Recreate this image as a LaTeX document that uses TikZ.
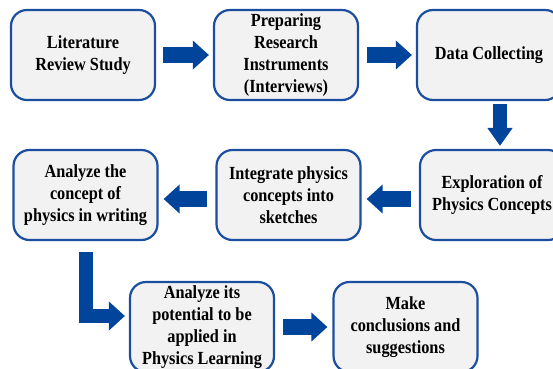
\documentclass[tikz,border=0pt]{standalone}
\usepackage{fontspec}
\setmainfont[FakeStretch=0.88]{Liberation Serif}
\usetikzlibrary{arrows.meta}
\definecolor{borda}{RGB}{28,78,160}
\definecolor{azul}{RGB}{0,68,155}
\definecolor{fundo}{RGB}{242,242,242}

\begin{document}
\begin{tikzpicture}[x=1pt, y=-1pt,
  font=\bfseries\fontsize{18.5}{22}\selectfont,
  cx/.style={draw=borda, line width=2.2pt, fill=fundo, rounded corners=16pt,
             minimum width=144pt, minimum height=90pt, align=center, inner sep=0pt},
  bloco/.style={draw=azul, line width=16pt, -{Triangle[length=16pt, width=28pt]}},
]
  \useasboundingbox (0,0) rectangle (553,368);

  % linha 1: y 10..100 · linha 2: y 150..240 · linha 3: y 282..372
  \node[cx] (lit)  at (83,55)    {Literature\\Review Study};
  \node[cx] (prep) at (286,55)   {Preparing\\Research\\Instruments\\(Interviews)};
  \node[cx] (dat)  at (489,55)   {Data Collecting};

  \node[cx] (exp)  at (492,195)  {Exploration of\\Physics Concepts};
  \node[cx] (int)  at (288.5,195) {Integrate physics\\concepts into\\sketches};
  \node[cx] (ana)  at (85.5,195) {Analyze the\\concept of\\physics in writing};

  \node[cx] (pot)  at (202,327)  {Analyze its\\potential to be\\applied in\\Physics Learning};
  \node[cx] (mak)  at (405.5,327) {Make\\conclusions and\\suggestions};

  \draw[bloco] ([xshift=7]lit.east) -- ([xshift=-4]prep.west);
  \draw[bloco] ([xshift=8]prep.east) -- ([xshift=-4]dat.west);
  \draw[bloco, line width=14pt, -{Triangle[length=18pt, width=24pt]}]
       ([xshift=11,yshift=-3]dat.south) -- ([xshift=8,yshift=3]exp.north);
  \draw[bloco] ([xshift=-8,yshift=-4]exp.west) -- ([xshift=5,yshift=-4]int.east);
  \draw[bloco] ([xshift=-8,yshift=-4]int.west) -- ([xshift=5,yshift=-4]ana.east);
  \draw[bloco, line width=14pt] ([yshift=-11]ana.south) |- ([xshift=-4,yshift=11]pot.west);
  \draw[bloco] ([xshift=8]pot.east) -- ([xshift=-5]mak.west);
\end{tikzpicture}
\end{document}
